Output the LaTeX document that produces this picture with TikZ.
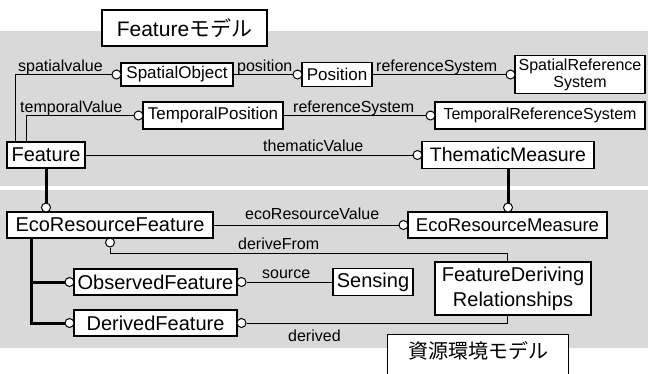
\documentclass[tikz,border=0pt]{standalone}
\usepackage{fontspec}
\setmainfont{Liberation Sans}
\newfontfamily\jp{Noto Sans CJK JP}
\begin{document}
\begin{tikzpicture}[x=1pt,y=-1pt,
  bg/.style={fill=black!15},
  cls/.style={draw, fill=white, line width=1.2pt, inner sep=0pt, font=\fontsize{20}{22}\selectfont},
  sml/.style={cls, font=\fontsize{17}{19}\selectfont},
  ttl/.style={cls, font=\fontsize{21}{23}\selectfont},
  lbl/.style={inner sep=0pt, anchor=base west, font=\fontsize{16}{18}\selectfont},
  rc/.style={circle, draw, fill=white, line width=1pt, minimum size=9pt, inner sep=0pt},
  conn/.style={line width=1pt},
  heavy/.style={line width=3pt, line join=miter},
]
\useasboundingbox (0,0) rectangle (648,373);
\fill[white] (0,0) rectangle (648,373);
\fill[bg] (0,31) rectangle (648,186);
\fill[bg] (0,190) rectangle (648,348);

% title boxes
\node[ttl, minimum width=165, minimum height=36] (t1) at (184.5,28) {Feature{\jp モデル}};
\node[inner sep=0pt, minimum width=180, minimum height=32, font=\fontsize{20}{22}\selectfont\jp] (t2) at (478,351) {資源環境モデル};
\draw[line width=1.2pt, fill=white] ([yshift=-20pt]t2.south west) |- (t2.north east) -- ([yshift=-20pt]t2.south east);
\node[inner sep=0pt, font=\fontsize{20}{22}\selectfont\jp] at (t2) {資源環境モデル};

% upper classes
\node[sml, minimum width=112, minimum height=23] (so) at (177,74.5) {SpatialObject};
\node[sml, minimum width=70, minimum height=24] (pos) at (337,74.5) {Position};
\node[sml, minimum width=130, minimum height=38, align=center, font=\fontsize{16}{17}\selectfont] (srs) at (580,74.5) {SpatialReference\\System};
\node[sml, minimum width=140, minimum height=27] (tp) at (213,115.5) {TemporalPosition};
\node[sml, minimum width=210, minimum height=27, font=\fontsize{16}{18}\selectfont] (trs) at (540,115.5) {TemporalReferenceSystem};
\node[cls, minimum width=78, minimum height=26] (fe) at (46,155) {Feature};
\node[cls, minimum width=172, minimum height=27, font=\fontsize{19.5}{21}\selectfont] (tm) at (508,155) {ThematicMeasure};

% lower classes
\node[cls, minimum width=206, minimum height=26] (erf) at (110,225) {EcoResourceFeature};
\node[cls, minimum width=199, minimum height=26, font=\fontsize{18.5}{20}\selectfont] (erm) at (507.5,225) {EcoResourceMeasure};
\node[cls, minimum width=163, minimum height=26] (obs) at (155.5,282) {ObservedFeature};
\node[cls, minimum width=163, minimum height=26] (der) at (155.5,323) {DerivedFeature};
\node[cls, minimum width=80, minimum height=27] (sen) at (373,282) {Sensing};
\node[cls, minimum width=156, minimum height=53, align=center, font=\fontsize{20}{25}\selectfont] (fdr) at (513,288.5) {FeatureDeriving\\Relationships};

% circles
\node[rc] (csv) at (116.5,74.5) {};
\node[rc] (cpo) at (297.5,74.5) {};
\node[rc] (crs) at (510.5,74.5) {};
\node[rc] (ctv) at (138.5,115.5) {};
\node[rc] (ctr) at (430.5,115.5) {};
\node[rc] (cth) at (417.5,155) {};
\node[rc] (cfe) at (46,207.5) {};
\node[rc] (ctm) at (508,207.5) {};
\node[rc] (cev) at (403.5,225) {};
\node[rc] (cdf) at (110,242.5) {};
\node[rc] (col) at (69.5,282) {};
\node[rc] (cdl) at (69.5,323) {};
\node[rc] (cor) at (241.5,282) {};
\node[rc] (cdr) at (241.5,323) {};

\coordinate (dfc) at (507,253);
\coordinate (dvc) at (507,323);

% connectors
\draw[conn] ([xshift=9pt]fe.north west) |- (csv);
\draw[conn] (so) -- (cpo);
\draw[conn] (pos) -- (crs);
\draw[conn] ([xshift=20pt]fe.north west) |- (ctv);
\draw[conn] (tp) -- (ctr);
\draw[conn] (fe) -- (cth);
\draw[heavy] (cfe |- fe.south) -- (cfe);
\draw[heavy] (ctm |- tm.south) -- (ctm);
\draw[conn] (erf) -- (cev);
\draw[conn] (cdf) |- (dfc) -- (dfc |- fdr.north);
\draw[heavy] ([xshift=25pt]erf.south west) |- (cdl);
\draw[heavy] ([xshift=25pt]erf.south west) |- (col);
\draw[conn] (cor) -- (sen);
\draw[conn] (cdr) -- (dvc) -- (dvc |- fdr.south);

% labels
\node[lbl] (lsv) at (18,71) {spatialvalue};
\node[lbl] (lpo) at (237,71) {position};
\node[lbl] (lrs) at (376,71) {referenceSystem};
\node[lbl] (ltv) at (20,112) {temporalValue};
\node[lbl] (lrs2) at (293,112) {referenceSystem};
\node[lbl] (lth) at (263,151) {thematicValue};
\node[lbl] (lev) at (245,219) {ecoResourceValue};
\node[lbl] (ldf) at (238,249) {deriveFrom};
\node[lbl] (lso) at (262,278) {source};
\node[lbl] (ldv) at (288,341) {derived};
\end{tikzpicture}
\end{document}
